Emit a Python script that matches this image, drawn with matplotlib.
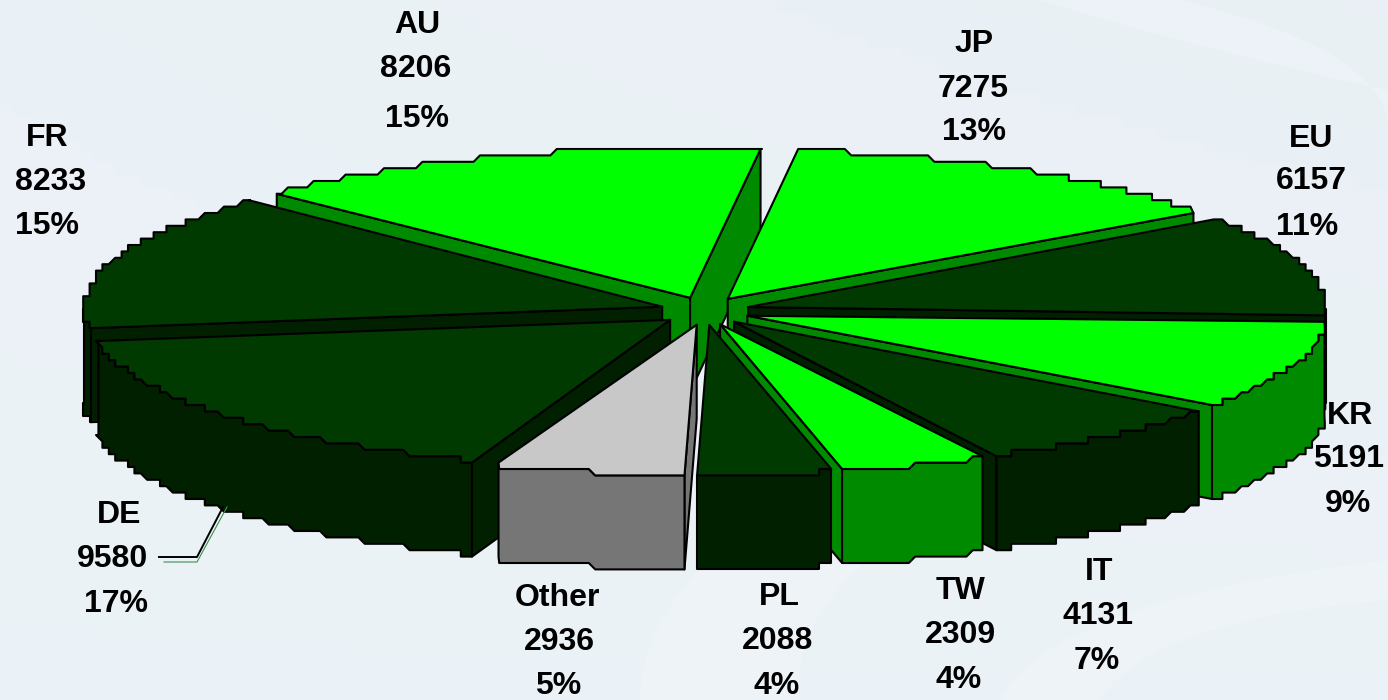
import numpy as np
import matplotlib
matplotlib.use('Agg')
import matplotlib.pyplot as plt
from matplotlib.patches import Polygon, PathPatch
from matplotlib.path import Path

# clockwise from the top
regions = ['JP', 'EU', 'KR', 'IT', 'TW', 'PL', 'Other', 'DE', 'FR', 'AU']
counts = [7275, 6157, 5191, 4131, 2309, 2088, 2936, 9580, 8233, 8206]
shades = ['bright', 'dark', 'bright', 'dark', 'bright', 'dark', 'grey', 'dark', 'dark', 'bright']

# centre of each text line: name, count, percent
label_pos = {
    'JP': [(974, 44), (973, 89), (974, 132)],
    'EU': [(1311, 139), (1311, 181), (1307, 227)],
    'KR': [(1350, 416), (1349, 459), (1348, 504)],
    'IT': [(1099, 572), (1098, 616), (1097, 661)],
    'TW': [(961, 591), (960, 635), (959, 680)],
    'PL': [(779, 597), (778, 641), (777, 686)],
    'Other': [(557, 598), (559, 642), (558, 686)],
    'DE': [(119, 515), (113, 559), (116, 604)],
    'FR': [(47, 138), (51, 182), (47, 226)],
    'AU': [(417, 25), (416, 69), (417, 119)],
}

colors = {
    'bright': ('#00ff00', '#008a00'),
    'dark': ('#003a00', '#002000'),
    'grey': ('#c8c8c8', '#767676'),
}

START = 7.0
CX, CY = 705, 311
RX, RY = 578, 150
EX, EY = 45, 14
DEPTH = 94
GRID = 6.4
GRID_Y0 = 1.8

fig = plt.figure(figsize=(13.88, 7), dpi=100)
ax = fig.add_axes([0, 0, 1, 1])
ax.set_xlim(0, 1388)
ax.set_ylim(700, 0)
ax.axis('off')

# background
yy, xx = np.mgrid[0:1:60j, 0:1:120j]
bg = 0.925 - 0.006 * xx * (1 - yy) + 0.004 * yy
rgb = np.dstack([bg - 0.004, bg + 0.022, bg + 0.04]).clip(0, 1)
ax.imshow(rgb, extent=(0, 1388, 700, 0), aspect='auto', zorder=0)


def swoosh(p0, c0, p1, c1, p2, c2, p3, color):
    verts = [p0, c0, p1, p1, c1, p2, p2, c2, p3, p0]
    codes = [Path.MOVETO, Path.CURVE3, Path.CURVE3, Path.LINETO, Path.CURVE3, Path.CURVE3,
             Path.LINETO, Path.CURVE3, Path.CURVE3, Path.CLOSEPOLY]
    ax.add_patch(PathPatch(Path(verts, codes), fc=color, ec='none', zorder=1))


swoosh((1040, 0), (1200, 50), (1388, 90), (1388, 130), (1388, 130), (1388, 50), (1180, 0), '#ecf2f7')
swoosh((640, 700), (640, 560), (900, 430), (1100, 430), (1100, 430), (780, 560), (800, 700), '#eef3f8')
swoosh((1000, 700), (1050, 600), (1388, 560), (1388, 520), (1388, 600), (1150, 620), (1100, 700), '#eef3f8')


def edge_point(tip, angle):
    a = np.radians(angle)
    x = tip[0] + RX * np.sin(a)
    y = tip[1] - RY * np.cos(a)
    return x, round((y - GRID_Y0) / GRID) * GRID + GRID_Y0


def arc_points(tip, a0, a1):
    # the outline is stepped, as in the low resolution original
    angles = np.arange(a0, a1 + 0.5, 0.5)
    pts = [edge_point(tip, a0)]
    for a in angles[1:-1]:
        x, y = edge_point(tip, a)
        p = (round(x / GRID) * GRID, y)
        if p != pts[-1]:
            pts.append(p)
    pts.append(edge_point(tip, a1))
    return pts


def draw_face(pts, color, z):
    ax.add_patch(Polygon(pts, closed=True, fc=color, ec='black', lw=1.5, joinstyle='round', zorder=z))


def extruded(pts):
    return list(pts) + [(x, y + DEPTH) for x, y in reversed(pts)]


total = sum(counts)
shares = np.array(counts) / total * 360
ends = START + np.cumsum(shares)
starts = ends - shares

slices = {}
for name, shade, a0, a1 in zip(regions, shades, starts, ends):
    mid = np.radians((a0 + a1) / 2)
    tip = (CX + EX * np.sin(mid), CY - EY * np.cos(mid))
    slices[name] = (shade, a0, a1, tip)

# back to front
draw_order = ['AU', 'JP', 'EU', 'KR', 'IT', 'TW', 'FR', 'DE', 'PL', 'Other']
z = 2
for name in draw_order:
    shade, a0, a1, tip = slices[name]
    top_c, side_c = colors[shade]
    if np.sin(np.radians(a0)) < 0:
        draw_face(extruded([tip, edge_point(tip, a0)]), side_c, z)
    if np.sin(np.radians(a1)) > 0:
        draw_face(extruded([tip, edge_point(tip, a1)]), side_c, z)
    w0, w1 = max(a0, 90), min(a1, 270)
    if w1 > w0:
        draw_face(extruded(arc_points(tip, w0, w1)), side_c, z)
    draw_face([tip] + arc_points(tip, a0, a1), top_c, z)
    z += 1

# leader line of DE
ax.plot([164, 197, 227], [562, 562, 507], color='#3f8f4f', lw=0.8, zorder=z)
ax.plot([159, 197, 223], [557, 557, 507], color='black', lw=1.4, zorder=z)

for name, count in zip(regions, counts):
    lines = [name, str(count), f'{round(100 * count / total)}%']
    for (x, y), line in zip(label_pos[name], lines):
        ax.text(x, y, line, ha='center', va='center', family=['Liberation Sans', 'DejaVu Sans'],
                fontsize=23, fontweight='bold', color='black', zorder=z + 1)

fig.savefig('out.png', dpi=100)
